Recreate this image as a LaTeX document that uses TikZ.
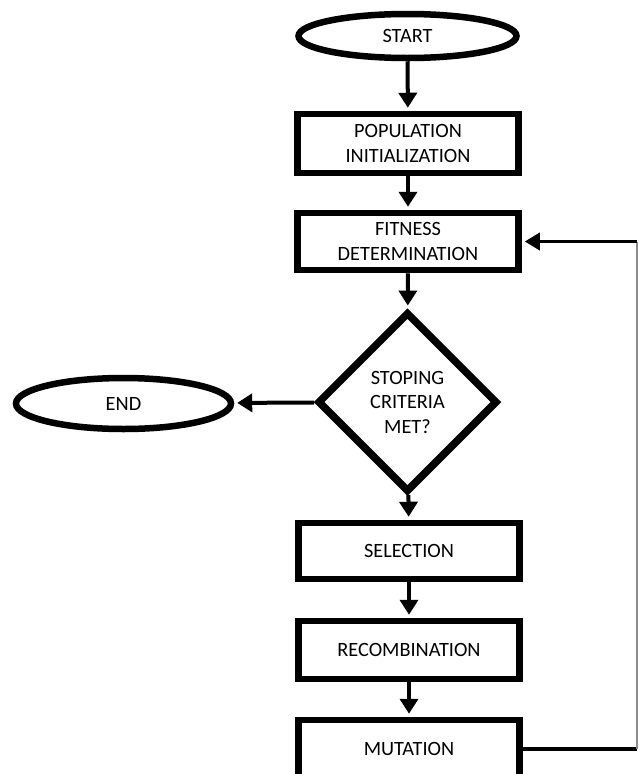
\documentclass[tikz,border=0pt]{standalone}
\usepackage{fontspec}
\setmainfont{Carlito}
\usetikzlibrary{shapes.geometric,arrows.meta}
\begin{document}
\begin{tikzpicture}[x=1pt,y=1pt,
  every node/.style={font=\fontsize{20.3}{24.5}\selectfont, align=center, inner sep=0pt},
  boxnode/.style={draw, rectangle, line width=6.5pt, minimum width=221pt},
  ovalnode/.style={draw, ellipse, line width=6.5pt},
  decnode/.style={draw, diamond, line width=7.5pt, minimum width=180pt, minimum height=180pt, aspect=1},
  flow/.style={line width=4pt, -{Triangle[length=15pt,width=18pt]}, shorten >=3pt},
  back/.style={line width=3.5pt}
]
\useasboundingbox (0,0) rectangle (638,-774);
\node[ovalnode, minimum width=218pt, minimum height=44pt] (start) at (407.5,-36) {START};
\node[boxnode, minimum height=59pt] (pop) at (408,-143.5) {POPULATION\\INITIALIZATION};
\node[boxnode, minimum height=57pt] (fit) at (408,-241.5) {FITNESS\\DETERMINATION};
\node[decnode] (dia) at (407.5,-402) {STOPING\\CRITERIA\\MET?};
\node[ovalnode, minimum width=215pt, minimum height=51pt] (end) at (123.5,-403.5) {END};
\node[boxnode, minimum height=56pt] (sel) at (409,-551) {SELECTION};
\node[boxnode, minimum height=58pt] (rec) at (409,-650) {RECOMBINATION};
\node[boxnode, minimum height=58pt] (mut) at (409,-749) {MUTATION};
\coordinate (c1) at (637,-749);
\coordinate (c2) at (637,-241.5);
\draw[flow] (start) -- (pop);
\draw[flow] (pop) -- (fit);
\draw[flow] (fit) -- (dia);
\draw[flow] (dia) -- (end);
\draw[flow] (dia) -- (sel);
\draw[flow] (sel) -- (rec);
\draw[flow] (rec) -- (mut);
\draw[back] (mut.east) -- (c1);
\draw[line width=1.5pt, black!45] (c1) -- (c2);
\draw[back, -{Triangle[length=15pt,width=17pt]}, shorten >=3pt] (c2) -- (fit.east);
\end{tikzpicture}
\end{document}
